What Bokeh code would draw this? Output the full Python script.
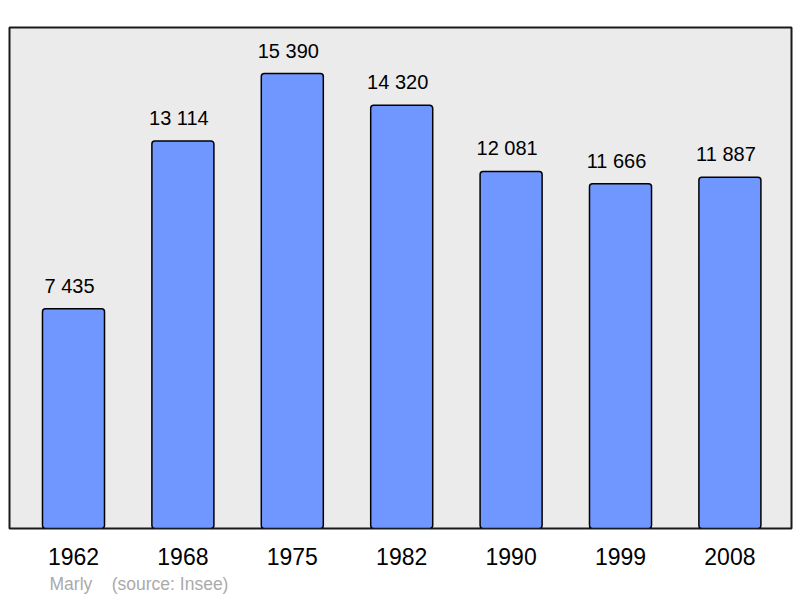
from bokeh.plotting import figure
from bokeh.models import ColumnDataSource, FixedTicker, Title, Range1d
from bokeh.core.properties import value
from bokeh.embed import file_html
from bokeh.resources import INLINE

years = ["1962", "1968", "1975", "1982", "1990", "1999", "2008"]
population = [7435, 13114, 15390, 14320, 12081, 11666, 11887]
value_labels = ["{:,}".format(v).replace(",", " ") for v in population]
town = "Marly"
source_note = "(source: Insee)"

xs = list(range(len(years)))
src = ColumnDataSource(dict(x=xs, pop=population, lab=value_labels))

p = figure(width=800, height=598, output_backend="svg", toolbar_location=None,
           x_range=Range1d(-0.585, 6.563), y_range=Range1d(0, 16950),
           min_border_left=9, min_border_right=9, min_border_top=27, min_border_bottom=70)
p.background_fill_color = "#ebebeb"
p.border_fill_color = "white"
p.outline_line_color = "#1a1a1a"
p.outline_line_width = 2
p.grid.visible = False
p.yaxis.visible = False

p.vbar(x="x", top="pop", width=0.567, bottom=0, source=src,
       fill_color="#7096ff", line_color="black", line_width=1.5, border_radius=3)

p.text(x="x", y="pop", text="lab", source=src, text_align="center", text_baseline="bottom",
       x_offset=-4, y_offset=-12, text_font=value("Liberation Sans"), text_font_size="20px",
       text_color="black")

ax = p.xaxis[0]
ax.ticker = FixedTicker(ticks=xs)
ax.major_label_overrides = {i: y for i, y in enumerate(years)}
ax.axis_line_color = None
ax.major_tick_line_color = None
ax.minor_tick_line_color = None
ax.major_label_text_font = "Liberation Sans"
ax.major_label_text_font_size = "23px"
ax.major_label_text_color = "black"
ax.major_label_standoff = 13

note = Title(text=town + "\u00a0\u00a0\u00a0\u00a0" + source_note, align="left", offset=40,
             text_font="Liberation Sans", text_font_size="17.5px", text_font_style="normal",
             text_color="#aaaaaa", standoff=8)
p.add_layout(note, "below")

open("out.html", "w").write(file_html(p, INLINE))
